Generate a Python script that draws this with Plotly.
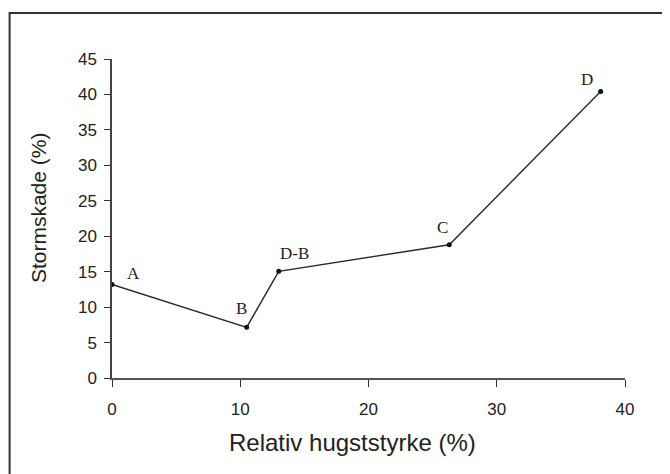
import plotly.graph_objects as go

# ---- data ----
hugststyrke = [0, 10.5, 13.0, 26.3, 38.1]      # Relativ hugststyrke (%)
stormskade = [13.2, 7.15, 15.05, 18.8, 40.4]   # Stormskade (%)
point_labels = ["A", "B", "D-B", "C", "D"]
x_ticks = [0, 10, 20, 30, 40]
y_ticks = [0, 5, 10, 15, 20, 25, 30, 35, 40, 45]

# label offsets (pixels) - style only
label_shift = [(21, 11), (-5, 19), (16, 18), (-7, 17), (-14, 12)]

# the page body has an 8px margin, so the figure is sized to fit inside it
OFF = 8
W, H = 670 - OFF, 474 - OFF
ml, mr, mt, mb = 111.5 - OFF, 45, 59 - OFF, 96
pw, ph = W - ml - mr, H - mt - mb


def px_x(x):  # page pixel -> paper
    return (x - OFF - ml) / pw


def px_y(y):
    return (H - mb - (y - OFF)) / ph


fig = go.Figure()
fig.add_trace(go.Scatter(
    x=hugststyrke, y=stormskade, mode="lines+markers",
    line=dict(color="#2a2a2a", width=1.4),
    marker=dict(color="#111111", size=5),
    showlegend=False, hoverinfo="skip",
))

sans = "Liberation Sans, Arial, sans-serif"
annotations = []
for xv, yv, lab, (dx, dy) in zip(hugststyrke, stormskade, point_labels, label_shift):
    annotations.append(dict(
        x=xv, y=yv, xref="x", yref="y", text=lab, showarrow=False,
        xshift=dx, yshift=dy,
        font=dict(family="Liberation Serif, Times New Roman, serif", size=17, color="#222222"),
    ))

# axis titles
annotations.append(dict(
    x=px_x(38), y=px_y(207.5), xref="paper", yref="paper", text="Stormskade (%)",
    textangle=-90, showarrow=False, xanchor="center", yanchor="middle",
    font=dict(family=sans, size=21, color="#222222"),
))
annotations.append(dict(
    x=px_x(352.5), y=px_y(442), xref="paper", yref="paper", text="Relativ hugststyrke (%)",
    showarrow=False, xanchor="center", yanchor="middle",
    font=dict(family=sans, size=24, color="#222222"),
))

axis_font = dict(family=sans, size=17, color="#222222")

fig.update_layout(
    width=W, height=H,
    margin=dict(l=ml, r=mr, t=mt, b=mb, pad=0),
    plot_bgcolor="white", paper_bgcolor="white",
    annotations=annotations,
    xaxis=dict(
        range=[0, 40], tickvals=x_ticks, ticktext=[str(v) for v in x_ticks],
        ticks="outside", ticklen=7, tickwidth=1, tickcolor="#333333",
        showline=True, linecolor="#555555", linewidth=2,
        showgrid=False, zeroline=False, tickfont=axis_font,
        ticklabelstandoff=8,
    ),
    yaxis=dict(
        range=[0, 45], tickvals=y_ticks, ticktext=[str(v) for v in y_ticks],
        ticks="outside", ticklen=6, tickwidth=1, tickcolor="#333333",
        showline=True, linecolor="#444444", linewidth=1.5,
        showgrid=False, zeroline=False, tickfont=axis_font,
        ticklabelstandoff=4,
    ),
    xaxis2=dict(
        range=[0, 40], tickvals=x_ticks, overlaying="x", anchor="y",
        ticks="inside", ticklen=6, tickwidth=1, tickcolor="#333333",
        showticklabels=False, showline=False, showgrid=False, zeroline=False,
    ),
    yaxis2=dict(
        range=[0, 45], tickvals=y_ticks, overlaying="y", anchor="x",
        ticks="inside", ticklen=6, tickwidth=1, tickcolor="#333333",
        showticklabels=False, showline=False, showgrid=False, zeroline=False,
    ),
    shapes=[dict(
        type="rect", xref="paper", yref="paper",
        x0=px_x(9), x1=1.3, y0=-0.6, y1=px_y(13),
        line=dict(color="#333333", width=2), fillcolor="rgba(0,0,0,0)", layer="below",
    )],
)

fig.write_html("out.html")
